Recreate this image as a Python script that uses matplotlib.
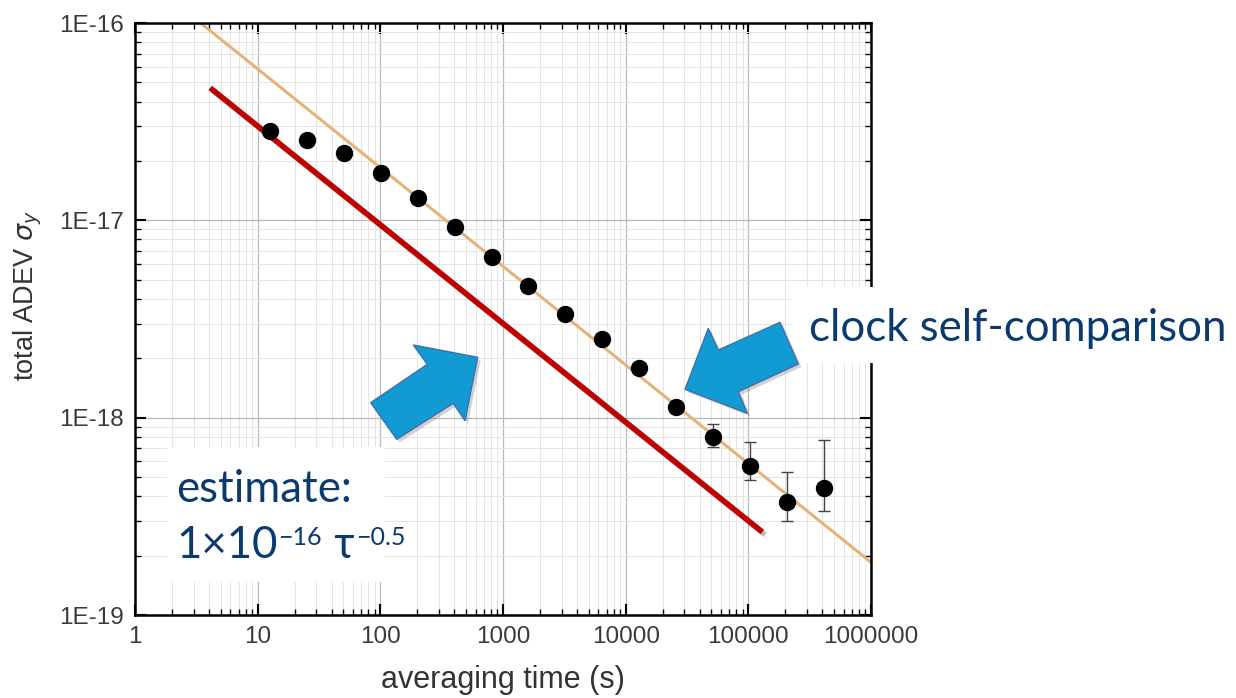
import matplotlib
matplotlib.use("Agg")
import matplotlib.pyplot as plt
import matplotlib.patheffects as pe
from matplotlib.patches import Rectangle, Polygon
from matplotlib.ticker import LogLocator, FixedLocator, FuncFormatter, NullFormatter
import numpy as np

# ---------------- data ----------------
tau = [12.6, 25.2, 50.4, 101, 202, 403, 806, 1610, 3230, 6450,
       12900, 25800, 51600, 103000, 206000, 413000]
adev = [2.84e-17, 2.55e-17, 2.20e-17, 1.74e-17, 1.30e-17, 9.3e-18,
        6.55e-18, 4.66e-18, 3.35e-18, 2.49e-18, 1.79e-18, 1.13e-18,
        7.94e-19, 5.70e-19, 3.72e-19, 4.38e-19]
err_minus = [0, 0, 0, 0, 0, 0, 0, 0, 0, 0, 0, 0,
             0.84e-19, 0.87e-19, 0.71e-19, 1.01e-19]
err_plus = [0, 0, 0, 0, 0, 0, 0, 0, 0, 0, 0, 0,
            1.34e-19, 1.80e-19, 1.60e-19, 3.32e-19]

fit_coef = 1.85e-16          # fitted white-noise line
fit_tau_range = [1, 1e6]
estimate_coef = 0.95e-16     # estimate line ~1e-16 tau^-0.5
estimate_tau_range = [4.1, 1.3e5]

x_ticks = [1, 10, 100, 1000, 10000, 100000, 1000000]
x_ticklabels = ["1", "10", "100", "1000", "10000", "100000", "1000000"]
y_ticks = [1e-19, 1e-18, 1e-17, 1e-16]
y_ticklabels = ["1E-19", "1E-18", "1E-17", "1E-16"]

# ---------------- figure ----------------
W, H = 1236, 698
fig = plt.figure(figsize=(W / 100, H / 100), dpi=100)
fig.patch.set_facecolor('white')

def fx(px):
    return px / W

def fy(py):
    return 1 - py / H

ax = fig.add_axes([fx(135), fy(615), (871 - 135) / W, (615 - 23) / H])
ax.set_xscale('log')
ax.set_yscale('log')
ax.set_xlim(1, 1e6)
ax.set_ylim(1e-19, 1e-16)

ax.grid(True, which='major', color='#b8b8b8', lw=0.9)
ax.grid(True, which='minor', color='#e4e4e4', lw=0.7)
ax.set_axisbelow(True)

ax.xaxis.set_major_locator(FixedLocator(x_ticks))
ax.xaxis.set_major_formatter(FuncFormatter(lambda v, p: x_ticklabels[x_ticks.index(v)] if v in x_ticks else ""))
ax.xaxis.set_minor_locator(LogLocator(base=10, subs=np.arange(2, 10), numticks=20))
ax.xaxis.set_minor_formatter(NullFormatter())
ax.yaxis.set_major_locator(FixedLocator(y_ticks))
ax.yaxis.set_major_formatter(FuncFormatter(lambda v, p: y_ticklabels[int(round(np.log10(v))) + 19]))
ax.yaxis.set_minor_locator(LogLocator(base=10, subs=np.arange(2, 10), numticks=20))
ax.yaxis.set_minor_formatter(NullFormatter())

ax.tick_params(which='both', direction='in', top=True, right=True, color='black')
ax.tick_params(which='major', length=8, width=1.5, labelsize=17.5, labelcolor='#3a3a3a', pad=8)
ax.tick_params(which='minor', length=4, width=1.0)
for s in ax.spines.values():
    s.set_linewidth(1.8)
    s.set_color('black')

# fit line (orange)
tf = np.logspace(np.log10(fit_tau_range[0]), np.log10(fit_tau_range[1]), 200)
ax.plot(tf, fit_coef * tf ** -0.5, color='#e6b27a', lw=2.2, zorder=2)

# estimate line (red) with shadow
te = np.logspace(np.log10(estimate_tau_range[0]), np.log10(estimate_tau_range[1]), 200)
ax.plot(te, estimate_coef * te ** -0.5, color='#c00000', lw=4.0, zorder=3,
        solid_capstyle='butt',
        path_effects=[pe.SimpleLineShadow(offset=(2, -2), shadow_color='#707070', alpha=0.45),
                      pe.Normal()])

# data points
ax.errorbar(tau, adev, yerr=[err_minus, err_plus], fmt='o', color='black',
            ms=11.5, ecolor='#444444', elinewidth=1.0, capsize=4, capthick=1.0, zorder=4)

ax.set_xlabel('averaging time (s)', fontsize=22, color='#333333', labelpad=12,
              family='Liberation Sans')
ax.set_ylabel(r'total ADEV $\sigma_y$', fontsize=19.5, color='#333333',
              family='Liberation Sans')
ax.yaxis.set_label_coords(-0.124, 0.54)
for lab in ax.get_xticklabels() + ax.get_yticklabels():
    lab.set_family('Liberation Sans')

# ---------------- annotations ----------------
text_color = '#0b3a6e'
big = 31.5
small = 18
# white boxes
fig.add_artist(Rectangle((fx(167), fy(582)), (385 - 167) / W, (582 - 447) / H,
                         transform=fig.transFigure, facecolor='white', edgecolor='none', zorder=5))
fig.add_artist(Rectangle((fx(792), fy(363)), (W - 792) / W, (363 - 287) / H,
                         transform=fig.transFigure, facecolor='white', edgecolor='none', zorder=5))

fig.text(fx(176), fy(502), 'estimate:', fontsize=big, color=text_color, family='Lato',
         ha='left', va='baseline', zorder=6)
fig.text(fx(809), fy(341), 'clock self-comparison', fontsize=big, color=text_color,
         family='Lato', ha='left', va='baseline', zorder=6)

# formula line built from pieces (normal + raised small superscripts)
renderer = fig.canvas.get_renderer()
pieces = [("1\u00d710", big, 0), ("\u221216", small, 13), (" \u03c4", big, 0), ("\u22120.5", small, 13)]
xcur = 176
base = 558
for s, size, rise in pieces:
    t = fig.text(fx(xcur), fy(base - rise), s, fontsize=size, color=text_color,
                 family=['Lato', 'DejaVu Sans'], ha='left', va='baseline', zorder=6)
    bb = t.get_window_extent(renderer=renderer)
    xcur += bb.width + 1

arrow1 = [(477.7, 357.3), (413.3, 345), (427.3, 364.3), (370.7, 402.7),
          (396.7, 439.3), (453.3, 403.3), (465, 420.7)]
arrow2 = [(685, 389.3), (708.3, 328.3), (718.3, 350), (780, 322.3),
          (798.3, 364), (738.3, 391.7), (747.3, 413.3)]
for arr in (arrow1, arrow2):
    shadow = [(fx(x + 3), fy(y + 3)) for x, y in arr]
    fig.add_artist(Polygon(shadow, closed=True, transform=fig.transFigure,
                           facecolor='#808080', edgecolor='none', alpha=0.35, zorder=6))
    pts = [(fx(x), fy(y)) for x, y in arr]
    fig.add_artist(Polygon(pts, closed=True, transform=fig.transFigure,
                           facecolor='#129bd3', edgecolor='#3f6fb0', lw=1.0, zorder=7))

fig.savefig('out.png', dpi=100, facecolor='white')
